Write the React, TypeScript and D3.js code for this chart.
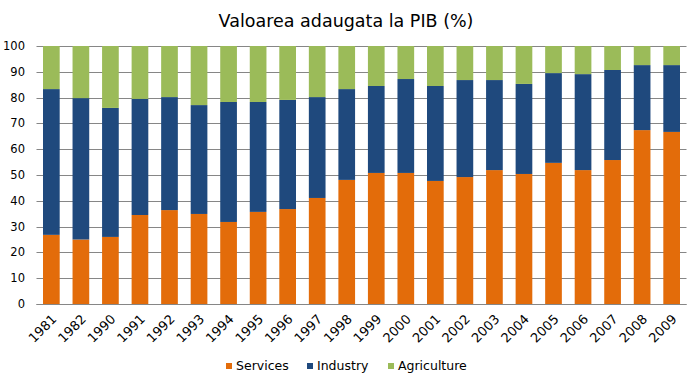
import React from "react";
import * as d3 from "d3";

const years = ["1981","1982","1990","1991","1992","1993","1994","1995","1996","1997","1998","1999","2000","2001","2002","2003","2004","2005","2006","2007","2008","2009"];
const services = [26.8,25,26,34.5,36.4,34.9,31.8,35.7,36.8,41.1,48.1,50.8,50.8,47.7,49.2,51.9,50.4,54.7,51.9,55.8,67.4,66.7];
const industry = [56.5,54.8,50,45,43.8,42.2,46.5,42.6,42.3,39.1,35.2,33.7,36.4,36.8,37.6,34.9,34.9,34.8,37.2,34.9,25.2,25.9];
const agriculture = [16.7,20.2,24,20.5,19.8,22.9,21.7,21.7,20.9,19.8,16.7,15.5,12.8,15.5,13.2,13.2,14.7,10.5,10.9,9.3,7.4,7.4];
const seriesNames = ["Services","Industry","Agriculture"];
const colors = ["#E36C0A","#1F497D","#9BBB59"];
const yTicks = [0,10,20,30,40,50,60,70,80,90,100];

export default function App() {
  const W = 696, H = 380;
  const left = 36.5, right = 686.5, top = 46, bottom = 304;
  const x = d3.scaleBand<string>().domain(years).range([left, right]).paddingInner(0.435).paddingOuter(0.22);
  const y = d3.scaleLinear().domain([0, 100]).range([bottom, top]);
  const rows = years.map((yr, i) => ({ year: yr, Services: services[i], Industry: industry[i], Agriculture: agriculture[i] }));
  const stacked = d3.stack<any>().keys(seriesNames)(rows);
  const font = "'DejaVu Sans', Verdana, sans-serif";
  const legendItems = [
    { name: "Services", x: 226 },
    { name: "Industry", x: 307 },
    { name: "Agriculture", x: 388 },
  ];
  return (
    <svg width={W} height={H} style={{ position: "absolute", left: 0, top: 0, background: "#fff" }}>
      <text x={346} y={27} textAnchor="middle" fontFamily={font} fontSize={17.5} fill="#000">Valoarea adaugata la PIB (%)</text>
      {yTicks.map(t => (
        <g key={t}>
          <line x1={left} x2={right} y1={Math.round(y(t)) + 0.5} y2={Math.round(y(t)) + 0.5} stroke="#868686" strokeWidth={1.2} />
          <text x={25} y={y(t) + 4} textAnchor="end" fontFamily={font} fontSize={11.5} fill="#000">{t}</text>
        </g>
      ))}
      {stacked.map((s, si) => (
        <g key={s.key} fill={colors[si]}>
          {s.map((d, i) => (
            <rect key={i} x={x(years[i])} width={x.bandwidth()} y={y(d[1])} height={y(d[0]) - y(d[1])} />
          ))}
        </g>
      ))}
      <line x1={left} x2={right} y1={bottom + 0.5} y2={bottom + 0.5} stroke="#868686" strokeWidth={1.2} />
      {years.map(yr => {
        const cx = (x(yr) as number) + x.bandwidth() / 2 + 6;
        return (
          <text key={yr} transform={`translate(${cx},${320}) rotate(-45)`} textAnchor="end" fontFamily={font} fontSize={13} fill="#000">{yr}</text>
        );
      })}
      {legendItems.map((l, i) => (
        <g key={l.name}>
          <rect x={l.x} y={363} width={6} height={6} fill={colors[i]} />
          <text x={l.x + 10} y={370} fontFamily={font} fontSize={12.5} fill="#000">{l.name}</text>
        </g>
      ))}
    </svg>
  );
}
